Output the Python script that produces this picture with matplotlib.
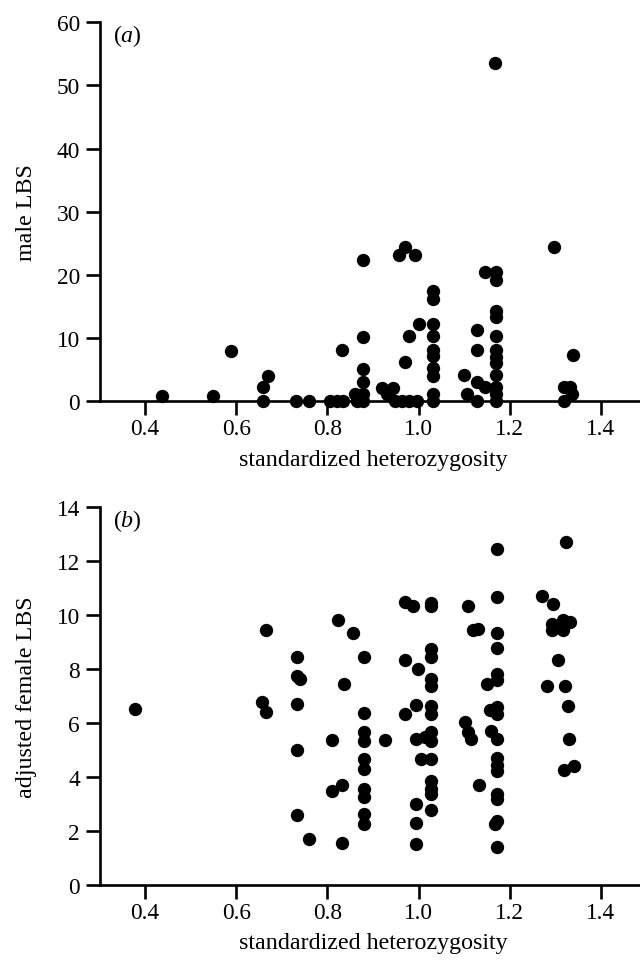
import matplotlib
matplotlib.use("Agg")
import matplotlib.pyplot as plt

plt.rcParams['font.family'] = ['Liberation Serif', 'DejaVu Serif']
plt.rcParams['mathtext.fontset'] = 'custom'
plt.rcParams['mathtext.rm'] = 'Liberation Serif'
plt.rcParams['mathtext.it'] = 'Liberation Serif:italic'

# ---- panel (a): male LBS ----
male_het = [0.438, 0.549, 0.589, 0.659, 0.659, 0.670, 0.730, 0.760, 0.805, 0.820,
            0.835, 0.831, 0.878, 0.878, 0.878, 0.878, 0.878, 0.878, 0.860, 0.864,
            0.920, 0.943, 0.931, 0.948, 0.964, 0.980, 0.996, 0.970, 0.958, 0.992,
            0.970, 0.980, 1.001, 1.031, 1.031, 1.031, 1.031, 1.031, 1.031, 1.031,
            1.031, 1.031, 1.031, 1.099, 1.107, 1.128, 1.128, 1.128, 1.128, 1.145,
            1.145, 1.169, 1.169, 1.169, 1.169, 1.169, 1.169, 1.169, 1.169, 1.169,
            1.169, 1.169, 1.169, 1.167, 1.297, 1.339, 1.319, 1.332, 1.336, 1.319]
male_lbs = [0.9, 0.9, 8.0, 0.0, 2.2, 4.05, 0.0, 0.0, 0.0, 0.0,
            0.0, 8.1, 22.4, 10.2, 5.1, 3.0, 1.15, 0.0, 1.15, 0.0,
            2.1, 2.1, 1.15, 0.0, 0.0, 0.0, 0.0, 24.5, 23.2, 23.2,
            6.2, 10.4, 12.3, 17.5, 16.2, 12.3, 10.4, 8.2, 7.1, 5.3,
            4.05, 1.15, 0.0, 4.15, 1.15, 11.3, 8.2, 3.1, 0.0, 20.4,
            2.2, 20.4, 19.2, 14.3, 13.4, 10.4, 8.1, 7.0, 6.1, 4.15,
            2.2, 1.15, 0.0, 53.5, 24.5, 7.3, 2.2, 2.2, 1.15, 0.0]

# ---- panel (b): adjusted female LBS ----
fem_het = [0.377, 0.666, 0.657, 0.666, 0.734, 0.734, 0.734, 0.734, 0.734, 0.739,
           0.759, 0.809, 0.809, 0.832, 0.832, 0.823, 0.855, 0.836,
           0.880, 0.880, 0.880, 0.880, 0.880, 0.880, 0.880, 0.880, 0.880, 0.880,
           0.926, 0.970, 0.987, 0.971, 0.999, 0.995, 0.971, 0.995, 1.013, 1.006,
           0.995, 0.995, 0.995,
           1.028, 1.028, 1.028, 1.028, 1.028, 1.028, 1.028, 1.028, 1.028, 1.028,
           1.028, 1.028, 1.028, 1.028, 1.028,
           1.109, 1.120, 1.131, 1.101, 1.109, 1.115, 1.133,
           1.173, 1.173, 1.173, 1.173, 1.173, 1.173, 1.173, 1.173, 1.173, 1.173,
           1.173, 1.173, 1.173, 1.173, 1.173, 1.173, 1.167, 1.151, 1.156, 1.158,
           1.271, 1.295, 1.292, 1.292, 1.317, 1.332, 1.317, 1.305, 1.281, 1.321,
           1.328, 1.330, 1.341, 1.319, 1.323]
fem_lbs = [6.52, 9.42, 6.77, 6.40, 8.43, 7.75, 6.70, 5.00, 2.60, 7.63,
           1.70, 5.37, 3.46, 3.70, 1.54, 9.79, 9.32, 7.42,
           8.43, 6.37, 5.65, 5.32, 4.67, 4.30, 3.56, 3.27, 2.63, 2.26,
           5.37, 10.47, 10.34, 8.34, 8.00, 6.66, 6.31, 5.41, 5.47, 4.67,
           3.00, 2.28, 1.52,
           10.45, 10.33, 8.74, 8.43, 7.63, 7.38, 6.64, 6.33, 5.65, 5.34,
           4.67, 3.86, 3.56, 3.37, 2.79,
           10.32, 9.42, 9.46, 6.03, 5.65, 5.41, 3.70,
           12.44, 10.65, 9.33, 8.76, 7.81, 7.57, 6.58, 6.33, 5.41, 4.70,
           4.45, 4.20, 3.37, 3.19, 2.38, 1.40, 2.26, 7.42, 6.46, 5.69,
           10.68, 10.38, 9.67, 9.42, 9.79, 9.73, 9.42, 8.31, 7.35, 7.35,
           6.64, 5.41, 4.42, 4.26, 12.71]

x_ticks = [0.4, 0.6, 0.8, 1.0, 1.2, 1.4]
x_ticklabels = ['0.4', '0.6', '0.8', '1.0', '1.2', '1.4']
a_yticks = [0, 10, 20, 30, 40, 50, 60]
b_yticks = [0, 2, 4, 6, 8, 10, 12, 14]

FS_TICK = 16.8
FS_LAB = 17.3
LW = 1.9

fig = plt.figure(figsize=(6.4, 9.62), dpi=100)
ax_a = fig.add_axes([0.1555, 0.5818, 0.8547, 0.3940])
ax_b = fig.add_axes([0.1555, 0.0790, 0.8547, 0.3933])


def style(ax, yticks, ylim, letter):
    ax.set_xlim(0.3, 1.5)
    ax.set_ylim(*ylim)
    for s in ('top', 'right'):
        ax.spines[s].set_visible(False)
    for s in ('left', 'bottom'):
        ax.spines[s].set_linewidth(LW)
    ax.set_xticks(x_ticks)
    ax.set_xticklabels(x_ticklabels)
    ax.set_yticks(yticks)
    ax.tick_params(axis='both', direction='out', length=10, width=LW,
                   labelsize=FS_TICK, color='black')
    ax.tick_params(axis='x', pad=2)
    ax.tick_params(axis='y', pad=4)
    ax.set_xlabel('standardized heterozygosity', fontsize=FS_LAB, labelpad=7)
    ax.text(0.33, ylim[1], r'$(%s)$' % letter, fontsize=FS_LAB, ha='left', va='top')


style(ax_a, a_yticks, (0, 60), 'a')
style(ax_b, b_yticks, (0, 14), 'b')

ax_a.plot(male_het, male_lbs, 'o', color='black', ms=9.6, mew=0, clip_on=False, zorder=5)
ax_b.plot(fem_het, fem_lbs, 'o', color='black', ms=9.6, mew=0, clip_on=False, zorder=5)

fig.text(27 / 640, 1 - 212.8 / 962, 'male LBS', rotation=90, ha='center', va='center', fontsize=FS_LAB)
fig.text(27 / 640, 1 - 697 / 962, 'adjusted female LBS', rotation=90, ha='center', va='center', fontsize=FS_LAB)

fig.savefig('out.png', dpi=100)
